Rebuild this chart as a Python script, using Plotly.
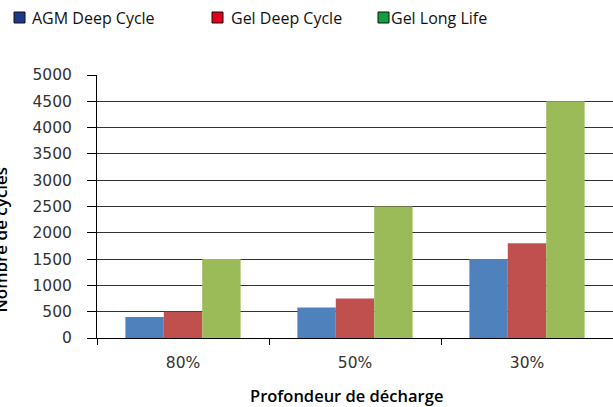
import plotly.graph_objects as go

categories = ["80%", "50%", "30%"]
agm_deep_cycle = [400, 580, 1500]
gel_deep_cycle = [500, 750, 1800]
gel_long_life = [1500, 2500, 4500]
series_names = ["AGM Deep Cycle", "Gel Deep Cycle", "Gel Long Life"]
y_ticks = [0, 500, 1000, 1500, 2000, 2500, 3000, 3500, 4000, 4500, 5000]

bar_colors = ["#4F81BD", "#C0504D", "#9BBB59"]
legend_colors = ["#1B3A8C", "#E3001B", "#11A03C"]

W, H = 613, 407
L, R, T, B = 97, 0, 75, 69
PW, PH = W - L - R, H - T - B

def px(x):
    return (x - L) / PW

def py(y):
    return (H - B - y) / PH

fig = go.Figure()
for name, vals, col in zip(series_names, [agm_deep_cycle, gel_deep_cycle, gel_long_life], bar_colors):
    fig.add_trace(go.Bar(x=categories, y=vals, name=name, marker=dict(color=col, line=dict(width=0)),
                         showlegend=False))

# legend drawn manually
leg_sq_x = [14, 212, 378]
leg_txt_x = [30, 229, 389]
shapes = []
annotations = []
for sx, tx, name, col in zip(leg_sq_x, leg_txt_x, series_names, legend_colors):
    shapes.append(dict(type="rect", xref="paper", yref="paper",
                       x0=px(sx), x1=px(sx + 11), y0=py(23), y1=py(12),
                       fillcolor=col, line=dict(color="#111111", width=1)))
    annotations.append(dict(text=name, xref="paper", yref="paper", x=px(tx), y=py(18),
                            xanchor="left", yanchor="middle", showarrow=False,
                            font=dict(family="Open Sans", size=16, color="#111111")))

annotations.append(dict(text="Nombre de cycles", xref="paper", yref="paper", x=px(14), y=py(240),
                        xanchor="right", yanchor="middle", textangle=-90, showarrow=False,
                        font=dict(family="Open Sans", size=17, color="#000000", weight=600)))
annotations.append(dict(text="Profondeur de décharge", xref="paper", yref="paper", x=px(346), y=py(396),
                        xanchor="center", yanchor="middle", showarrow=False,
                        font=dict(family="Open Sans", size=16.5, color="#000000", weight=600)))

fig.update_layout(
    width=W, height=H,
    margin=dict(l=L, r=R, t=T, b=B, autoexpand=False),
    paper_bgcolor="white", plot_bgcolor="white",
    barmode="group", bargap=0.33, bargroupgap=0,
    shapes=shapes, annotations=annotations,
    xaxis=dict(
        type="category", showgrid=False, showline=True, linecolor="#000000", linewidth=1,
        ticks="outside", tickson="boundaries", ticklen=6, tickcolor="#000000",
        ticklabelstandoff=10, automargin=False,
        tickfont=dict(family="DejaVu Sans", size=15.5, color="#333333"),
    ),
    yaxis=dict(
        range=[0, 5000], tickvals=y_ticks, showgrid=True, gridcolor="#333333", gridwidth=1.3,
        showline=True, linecolor="#000000", linewidth=1,
        ticks="outside", ticklen=9, tickcolor="#000000",
        ticklabelstandoff=12, automargin=False,
        tickfont=dict(family="DejaVu Sans", size=15.5, color="#333333"),
        zeroline=False,
    ),
)

fig.write_html("out.html", post_script="document.body.style.margin='0';",
               config={"displayModeBar": False})
